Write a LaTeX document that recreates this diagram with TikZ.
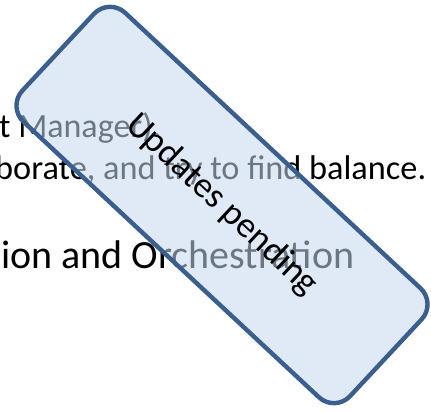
\documentclass[tikz,border=0pt]{standalone}
\usepackage{fontspec}
\setmainfont{Carlito}
\definecolor{boxline}{HTML}{3A5F8F}
\definecolor{boxfill}{HTML}{C6D9F1}
\tikzset{
  bgtext/.style={inner sep=0pt, text=black},
  pendingbox/.style={draw=boxline, line width=4.4pt, fill=boxfill, fill opacity=0.55, text opacity=1,
    rounded corners=22pt, minimum width=448pt, minimum height=149pt, inner sep=0pt,
    font=\fontsize{36}{38}\selectfont}
}
\begin{document}
\begin{tikzpicture}[x=1pt,y=1pt]
\useasboundingbox (0,0) rectangle (431,412);
\clip (0,0) rectangle (431,412);
\node[bgtext, anchor=base west, font=\fontsize{34}{36}\selectfont] (l1) at (-1,274) {t Manager).};
\node[bgtext, anchor=base west, font=\fontsize{34.3}{37}\selectfont] (l2) at (-5,232) {borate, and try to find balance.};
\node[bgtext, anchor=base west, font=\fontsize{40}{42}\selectfont] (l3) at (1,143) {ion and Orchestration};
\node[pendingbox, rotate=-43] (box) at (222,207) {Updates pending};
\end{tikzpicture}
\end{document}
